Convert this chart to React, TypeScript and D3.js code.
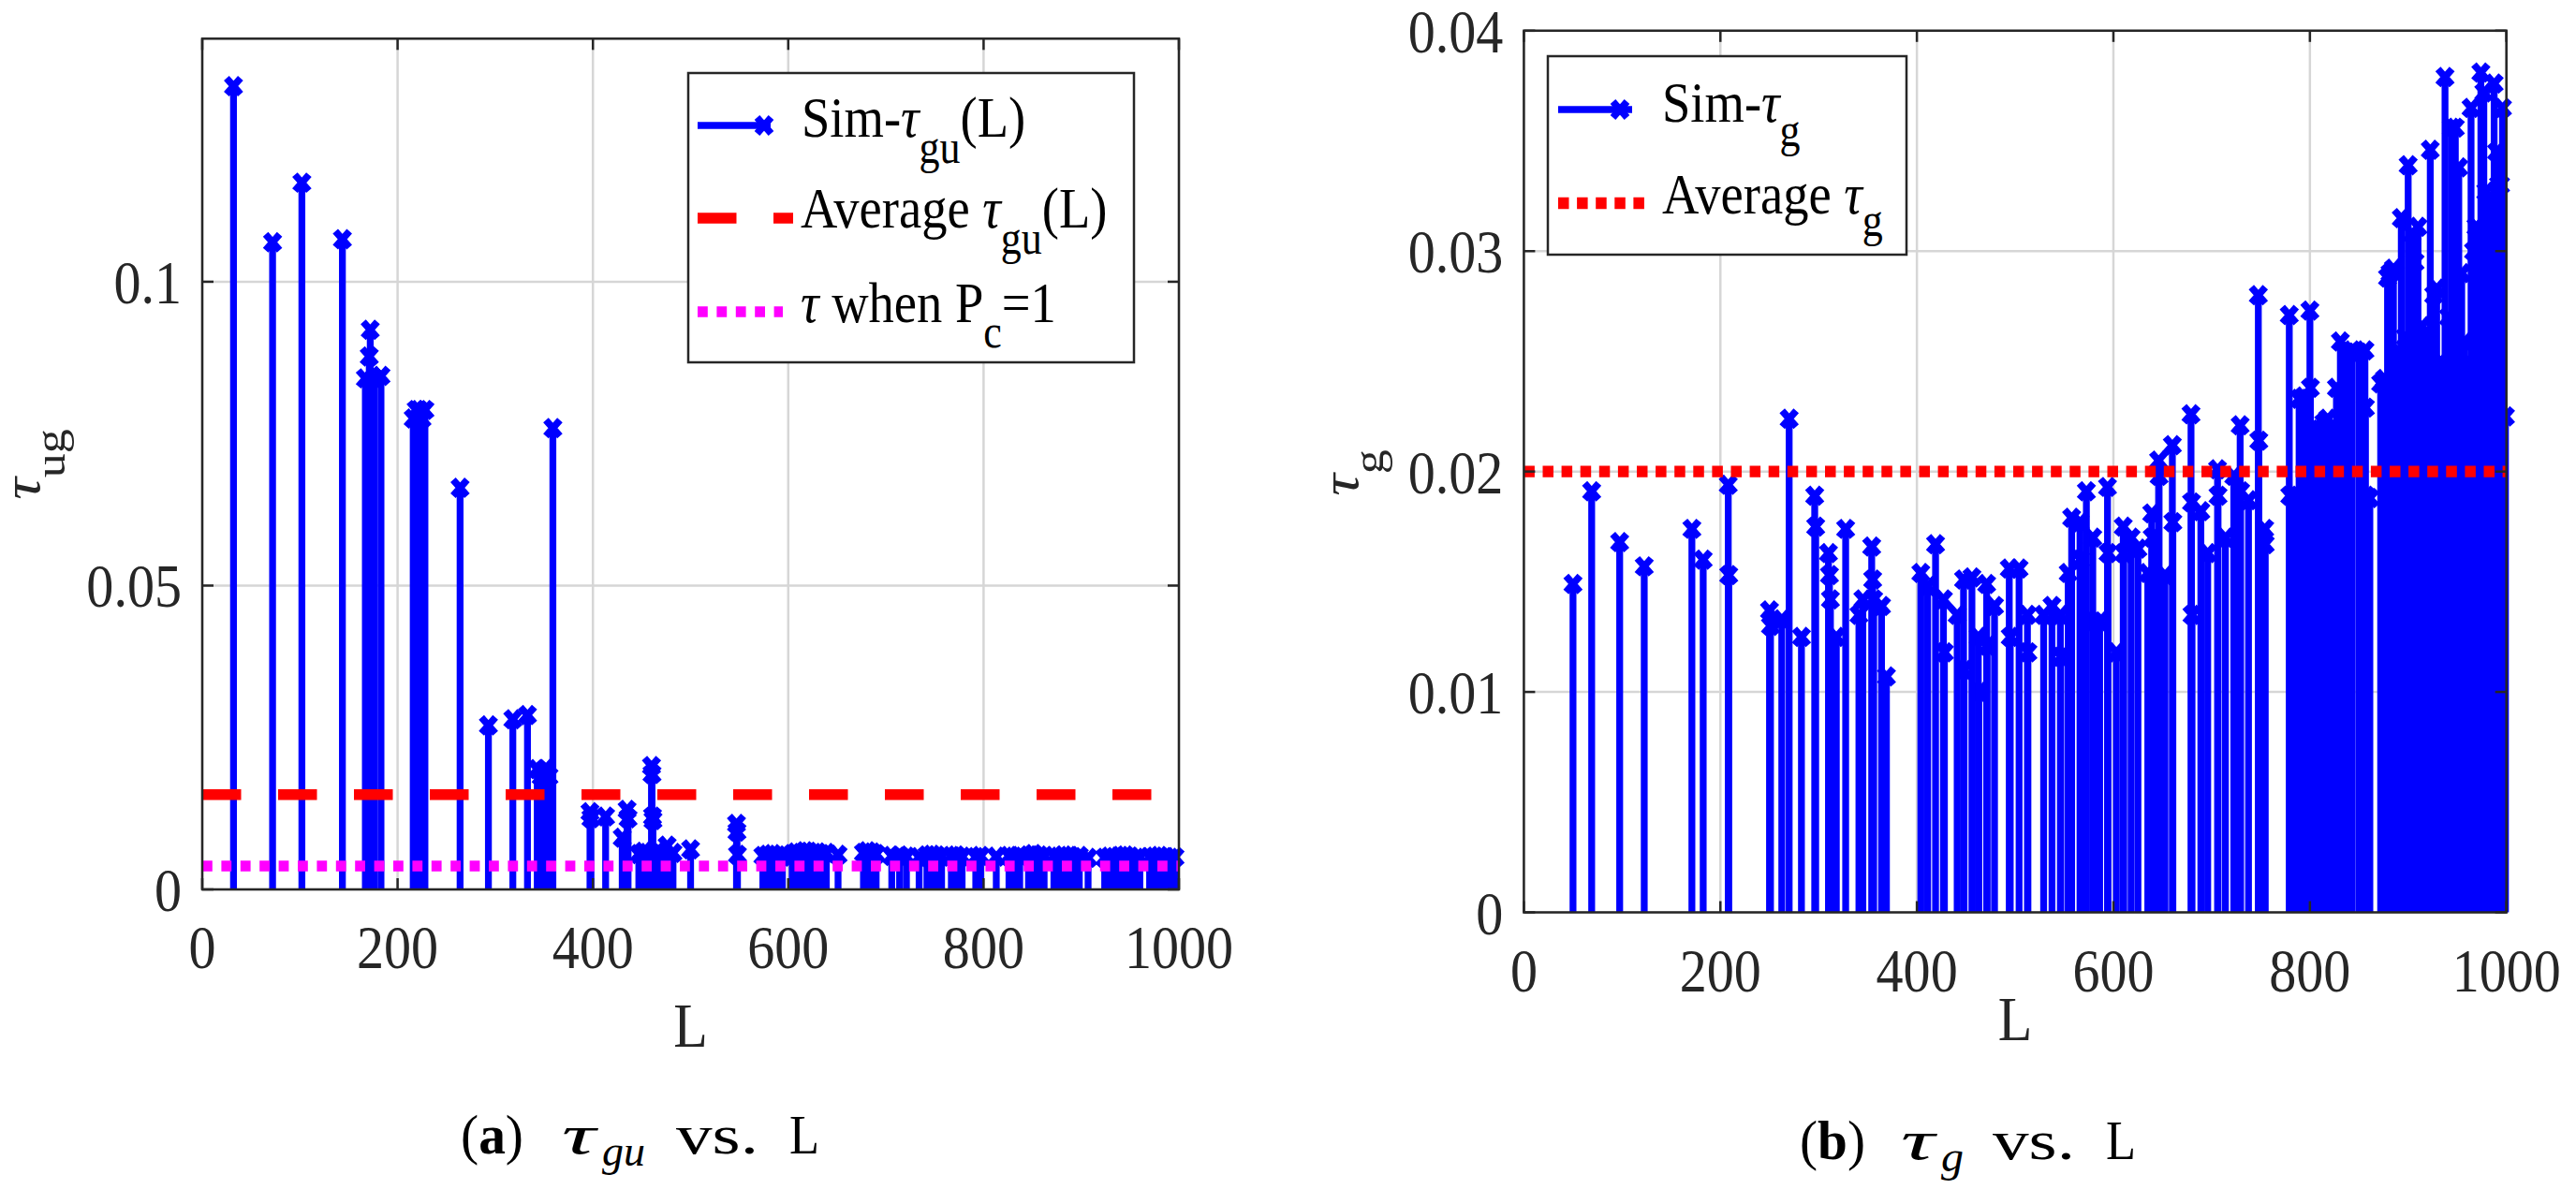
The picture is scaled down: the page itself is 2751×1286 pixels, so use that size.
import React from "react"
import { scaleLinear } from "d3"

const W = 2751
const H = 1286

// (a) simulated tau_gu for each L, as [L, value]
const simTauGu: [number, number][] = [
  [32, 0.1322], [72, 0.1065], [102, 0.1163], [143.5, 0.107],
  [167, 0.0841], [171, 0.0877], [172, 0.0921], [176, 0.0841], [183, 0.0845],
  [216, 0.0775], [219, 0.0789], [222, 0.0789], [225, 0.0775], [228, 0.0789],
  [264, 0.0661], [293, 0.027], [318, 0.028], [333, 0.0287],
  [343, 0.0198], [347, 0.0186], [351, 0.0198], [355, 0.0186], [359, 0.0759],
  [397, 0.0127], [398, 0.0117], [413, 0.012], [430, 0.0085], [435, 0.0131], [436, 0.0117],
  [447, 0.0058], [452, 0.0062], [456, 0.006], [460, 0.0203], [460.5, 0.019], [461, 0.012],
  [461.5, 0.0114], [466, 0.0063], [470, 0.0059], [476, 0.0072], [482, 0.006], [500, 0.0066],
  [547, 0.0108], [547.5, 0.0095], [548, 0.0057],
  [574, 0.0055], [579, 0.0057], [584, 0.0058], [589, 0.0056], [594, 0.0054],
  [604, 0.0058], [608, 0.0061], [613, 0.006], [617, 0.0063], [621, 0.0062],
  [626, 0.006], [630, 0.0061], [634, 0.0058], [639, 0.006], [651, 0.0057],
  [677, 0.006], [681, 0.0063], [686, 0.0061], [690, 0.0058],
  [706, 0.0055], [714, 0.0056], [721, 0.0054], [734, 0.0053],
  [742, 0.0056], [747, 0.0057], [752, 0.0056], [757, 0.0054],
  [767, 0.0055], [772, 0.0056], [778, 0.0054], [792, 0.0053], [797, 0.0055],
  [813, 0.0054], [826, 0.0055], [831, 0.0054], [837, 0.0055],
  [846, 0.0056], [851, 0.0058], [857, 0.0056], [862, 0.0054],
  [872, 0.0055], [877, 0.0054], [882, 0.0056], [887, 0.0055], [892, 0.0053], [898, 0.0055],
  [907, 0.0052], [924, 0.0052], [929, 0.0054], [934, 0.0053], [940, 0.0055],
  [945, 0.0056], [950, 0.0054], [956, 0.0052], [960, 0.0053],
  [970, 0.0053], [975, 0.0054], [980, 0.0055], [985, 0.0053], [991, 0.0052], [996, 0.0053],
]
const avgTauGu = 0.0156
const tauPc1 = 0.00385

// (b) simulated tau_g for each L, as [L, value]
const simTauG: [number, number][] = [
  [50, 0.0149], [69, 0.0191], [97.5, 0.0168], [122.5, 0.0157],
  [171, 0.0174], [182.5, 0.016], [208, 0.0194], [208.5, 0.0153],
  [250, 0.0137], [251, 0.013], [262.5, 0.0133], [270, 0.0224], [282.5, 0.0125],
  [296, 0.0189], [297, 0.0175], [310, 0.0163], [311, 0.0153], [312, 0.0142],
  [318, 0.0125], [327.5, 0.0174], [341, 0.0135], [345, 0.0142],
  [354, 0.0166], [355, 0.0151], [356, 0.0142], [364, 0.0139], [369, 0.0107],
  [404, 0.0154], [411, 0.0148], [419, 0.0167], [427, 0.0142], [428, 0.0118],
  [441, 0.0135], [447.5, 0.0151], [448, 0.011], [456, 0.0152],
  [462.5, 0.0125], [463, 0.01], [471, 0.0149], [471.5, 0.0121], [479, 0.0139],
  [494, 0.0156], [495, 0.0125], [504, 0.0156], [512.5, 0.0135], [513, 0.0118],
  [529, 0.0135], [537.5, 0.0139], [546, 0.0135], [546.5, 0.0116],
  [554, 0.0154], [557.5, 0.0179], [566, 0.0177], [566.5, 0.016], [572.5, 0.0191],
  [579, 0.017], [579.5, 0.0132], [586, 0.0132], [594, 0.0193], [594.5, 0.0163],
  [603, 0.0118], [610, 0.0175], [610.5, 0.0163], [618, 0.017], [625, 0.0165],
  [635, 0.0154], [639, 0.0181], [639.5, 0.017], [646, 0.0205], [646.5, 0.0198],
  [652.5, 0.0153], [660, 0.0212], [660.5, 0.0177],
  [679, 0.0226], [679.5, 0.0186], [680, 0.0135], [689, 0.0182], [696, 0.0163],
  [706, 0.0201], [706.5, 0.0189], [714, 0.017], [722.5, 0.0198],
  [729, 0.0221], [729.5, 0.0191], [737.5, 0.0187],
  [747.5, 0.028], [748, 0.0214], [754, 0.0174], [754.5, 0.0167],
  [779, 0.0271], [779.5, 0.0189], [784, 0.019], [789, 0.0233], [794, 0.0234],
  [800, 0.0273], [800.5, 0.0238], [801, 0.0219], [805, 0.022],
  [810, 0.0219], [810.5, 0.0191], [814, 0.0222], [818, 0.0224], [822, 0.022],
  [827, 0.0238], [831, 0.0259], [837.5, 0.0254], [843, 0.0255], [850, 0.0254],
  [856, 0.0255], [856.5, 0.0229], [857, 0.0189], [861, 0.0188],
  [872, 0.024], [876, 0.0242], [879, 0.0288], [881.5, 0.029], [885, 0.0292],
  [889, 0.0255], [893, 0.0315], [897, 0.0261], [900, 0.0339], [904, 0.0308],
  [907, 0.0295], [910, 0.0311], [914, 0.0266], [918, 0.0262], [922.5, 0.0346],
  [926, 0.028], [929, 0.0283], [933, 0.025], [937.5, 0.0379], [941, 0.027],
  [944, 0.0356], [948, 0.0356], [951.5, 0.0338], [954.5, 0.029], [957.5, 0.0259],
  [961, 0.025], [964, 0.0365], [966.5, 0.03], [969, 0.0311], [971.5, 0.031],
  [974, 0.0381], [977, 0.0372], [979, 0.0327], [983, 0.029], [985.5, 0.032],
  [987.5, 0.0376], [990, 0.0345], [992, 0.033], [994, 0.033], [996, 0.0365], [999, 0.0225],
]
const avgTauG = 0.02

const xTicks = [0, 200, 400, 600, 800, 1000]
const guTicks = [0, 0.05, 0.1]
const guTickLabels = ["0", "0.05", "0.1"]
const gTicks = [0, 0.01, 0.02, 0.03, 0.04]
const gTickLabels = ["0", "0.01", "0.02", "0.03", "0.04"]

const BLUE = "#0000ff"
const AXIS = "#262626"
const GRID = "#d6d6d6"
const FONT = "'Liberation Serif', 'DejaVu Serif', serif"
const SQUEEZE = 0.88

type Part = { t: string; sub?: boolean; it?: boolean; b?: boolean }

const Tex = ({
  x, y, parts, size, subSize, shift, anchor = "start", rotate = false, fill = "#000",
}: {
  x: number; y: number; parts: Part[]; size: number; subSize: number; shift: number
  anchor?: string; rotate?: boolean; fill?: string
}) => (
  <g transform={`translate(${x},${y}) scale(${SQUEEZE},1)${rotate ? " rotate(-90)" : ""}`}>
    <text fontSize={size} textAnchor={anchor} fill={fill} fontFamily={FONT}>
      {parts.map((p, i) => {
        const prevSub = i > 0 && !!parts[i - 1].sub
        const dy = p.sub && !prevSub ? shift : !p.sub && prevSub ? -shift : 0
        return (
          <tspan
            key={i}
            dy={dy}
            fontSize={p.sub ? subSize : size}
            fontStyle={p.it ? "italic" : "normal"}
            fontWeight={p.b ? "bold" : "normal"}
          >
            {p.t}
          </tspan>
        )
      })}
    </text>
  </g>
)

// caption pieces, each set at its own x and width
type Chunk = { t: string; x: number; w: number; it?: boolean; sub?: boolean; b?: string }

const Caption = ({ y, chunks }: { y: number; chunks: Chunk[] }) => (
  <g fontFamily={FONT} fill="#000">
    {chunks.map((c, i) => (
      <text
        key={i}
        x={c.x}
        y={c.sub ? y + 13 : y}
        fontSize={c.sub ? 46 : 60}
        fontStyle={c.it ? "italic" : "normal"}
        textLength={c.w}
        lengthAdjust="spacingAndGlyphs"
      >
        {c.b ? (
          <>
            (<tspan fontWeight="bold">{c.b}</tspan>)
          </>
        ) : (
          c.t
        )}
      </text>
    ))}
  </g>
)

const Cross = ({ cx, cy }: { cx: number; cy: number }) => (
  <path
    d={`M${cx - 7.5},${cy - 8.5}L${cx + 7.5},${cy + 8.5}M${cx - 7.5},${cy + 8.5}L${cx + 7.5},${cy - 8.5}`}
    stroke={BLUE}
    strokeWidth={7.5}
  />
)

type HLine = { v: number; color: string; dash: string; width: number }

type PanelProps = {
  left: number; right: number; bottom: number; top: number
  yMax: number; yTicks: number[]; yTickLabels: string[]
  data: [number, number][]; lines: HLine[]; xLabelY: number
}

const Panel = ({ left, right, bottom, top, yMax, yTicks, yTickLabels, data, lines, xLabelY }: PanelProps) => {
  const x = scaleLinear().domain([0, 1000]).range([left, right])
  const y = scaleLinear().domain([0, yMax]).range([bottom, top])
  const tick = 12
  return (
    <g>
      {/* grid */}
      {xTicks.map((t) => (
        <line key={"gx" + t} x1={x(t)} x2={x(t)} y1={top} y2={bottom} stroke={GRID} strokeWidth={2.5} />
      ))}
      {yTicks.map((t) => (
        <line key={"gy" + t} x1={left} x2={right} y1={y(t)} y2={y(t)} stroke={GRID} strokeWidth={2.5} />
      ))}
      {/* stems */}
      {data.map(([l, v], i) => (
        <line key={"s" + i} x1={x(l)} x2={x(l)} y1={y(0)} y2={y(v)} stroke={BLUE} strokeWidth={7.3} />
      ))}
      {data.map(([l, v], i) => (
        <Cross key={"m" + i} cx={x(l)} cy={y(v)} />
      ))}
      {/* reference lines */}
      {lines.map((ln, i) => (
        <line
          key={"h" + i}
          x1={left}
          x2={right}
          y1={y(ln.v)}
          y2={y(ln.v)}
          stroke={ln.color}
          strokeWidth={ln.width}
          strokeDasharray={ln.dash}
        />
      ))}
      {/* axes box and ticks */}
      <rect x={left} y={top} width={right - left} height={bottom - top} fill="none" stroke={AXIS} strokeWidth={2.5} />
      {xTicks.map((t) => (
        <g key={"tx" + t}>
          <line x1={x(t)} x2={x(t)} y1={bottom} y2={bottom - tick} stroke={AXIS} strokeWidth={2.5} />
          <line x1={x(t)} x2={x(t)} y1={top} y2={top + tick} stroke={AXIS} strokeWidth={2.5} />
        </g>
      ))}
      {yTicks.map((t) => (
        <g key={"ty" + t}>
          <line x1={left} x2={left + tick} y1={y(t)} y2={y(t)} stroke={AXIS} strokeWidth={2.5} />
          <line x1={right} x2={right - tick} y1={y(t)} y2={y(t)} stroke={AXIS} strokeWidth={2.5} />
        </g>
      ))}
      {/* tick labels */}
      {xTicks.map((t) => (
        <Tex key={"lx" + t} x={x(t)} y={bottom + 84} parts={[{ t: String(t) }]} size={66} subSize={50} shift={0} anchor="middle" fill={AXIS} />
      ))}
      {yTicks.map((t, i) => (
        <Tex key={"ly" + t} x={left - 22} y={y(t) + 23} parts={[{ t: yTickLabels[i] }]} size={66} subSize={50} shift={0} anchor="end" fill={AXIS} />
      ))}
      <Tex x={(left + right) / 2} y={xLabelY} parts={[{ t: "L" }]} size={68} subSize={50} shift={0} anchor="middle" fill={AXIS} />
    </g>
  )
}

const App = () => {
  return (
    <svg
      width={W}
      height={H}
      viewBox={`0 0 ${W} ${H}`}
      style={{ position: "absolute", left: 0, top: 0, background: "#fff" }}
    >
      <rect x={0} y={0} width={W} height={H} fill="#fff" />

      {/* (a) */}
      <Panel
        left={216}
        right={1259}
        bottom={950}
        top={41.3}
        yMax={0.14}
        yTicks={guTicks}
        yTickLabels={guTickLabels}
        data={simTauGu}
        lines={[
          { v: avgTauGu, color: "#ff0000", dash: "41.5 39.5", width: 11.7 },
          { v: tauPc1, color: "#ff00ff", dash: "10.8 9.6", width: 11.7 },
        ]}
        xLabelY={1118}
      />
      <Tex
        x={42}
        y={496}
        parts={[{ t: "τ", it: true }, { t: "ug", sub: true }]}
        size={66}
        subSize={52}
        shift={31}
        anchor="middle"
        rotate
        fill={AXIS}
      />
      <g>
        <rect x={735} y={78} width={476} height={309} fill="#fff" stroke={AXIS} strokeWidth={2.5} />
        <line x1={745} x2={823} y1={134} y2={134} stroke={BLUE} strokeWidth={7.3} />
        <Cross cx={816} cy={134} />
        <Tex x={856} y={146} parts={[{ t: "Sim-" }, { t: "τ", it: true }, { t: "gu", sub: true }, { t: "(L)" }]} size={62} subSize={50} shift={28} />
        <line x1={745} x2={847} y1={233} y2={233} stroke="#ff0000" strokeWidth={11.5} strokeDasharray="41.5 39.5" />
        <Tex x={855} y={243} parts={[{ t: "Average " }, { t: "τ", it: true }, { t: "gu", sub: true }, { t: "(L)" }]} size={62} subSize={50} shift={28} />
        <line x1={745} x2={836} y1={333} y2={333} stroke="#ff00ff" strokeWidth={11.7} strokeDasharray="10.8 9.6" />
        <Tex x={855} y={344} parts={[{ t: "τ", it: true }, { t: " when P" }, { t: "c", sub: true }, { t: "=1" }]} size={62} subSize={50} shift={27} />
      </g>
      <Caption
        y={1232}
        chunks={[
          { t: "(a)", b: "a", x: 492, w: 67 },
          { t: "τ", it: true, x: 600, w: 36 },
          { t: "gu", it: true, sub: true, x: 643, w: 46 },
          { t: "vs.", x: 722, w: 88 },
          { t: "L", x: 843, w: 32 },
        ]}
      />

      {/* (b) */}
      <Panel
        left={1627.4}
        right={2676.7}
        bottom={974.5}
        top={32.8}
        yMax={0.04}
        yTicks={gTicks}
        yTickLabels={gTickLabels}
        data={simTauG}
        lines={[{ v: avgTauG, color: "#ff0000", dash: "11.5 8.6", width: 12.3 }]}
        xLabelY={1111}
      />
      <Tex
        x={1450}
        y={505}
        parts={[{ t: "τ", it: true }, { t: "g", sub: true }]}
        size={66}
        subSize={52}
        shift={31}
        anchor="middle"
        rotate
        fill={AXIS}
      />
      <g>
        <rect x={1653} y={60} width={383} height={212} fill="#fff" stroke={AXIS} strokeWidth={2.5} />
        <line x1={1664} x2={1743} y1={117} y2={117} stroke={BLUE} strokeWidth={7.3} />
        <Cross cx={1730} cy={117} />
        <Tex x={1775} y={130} parts={[{ t: "Sim-" }, { t: "τ", it: true }, { t: "g", sub: true }]} size={62} subSize={50} shift={26} />
        <line x1={1664} x2={1756} y1={217} y2={217} stroke="#ff0000" strokeWidth={12.3} strokeDasharray="11.5 8.6" />
        <Tex x={1775} y={228} parts={[{ t: "Average " }, { t: "τ", it: true }, { t: "g", sub: true }]} size={62} subSize={50} shift={24} />
      </g>
      <Caption
        y={1238}
        chunks={[
          { t: "(b)", b: "b", x: 1922, w: 70 },
          { t: "τ", it: true, x: 2030, w: 36 },
          { t: "g", it: true, sub: true, x: 2073, w: 24 },
          { t: "vs.", x: 2128, w: 88 },
          { t: "L", x: 2249, w: 32 },
        ]}
      />
    </svg>
  )
}

export default App
